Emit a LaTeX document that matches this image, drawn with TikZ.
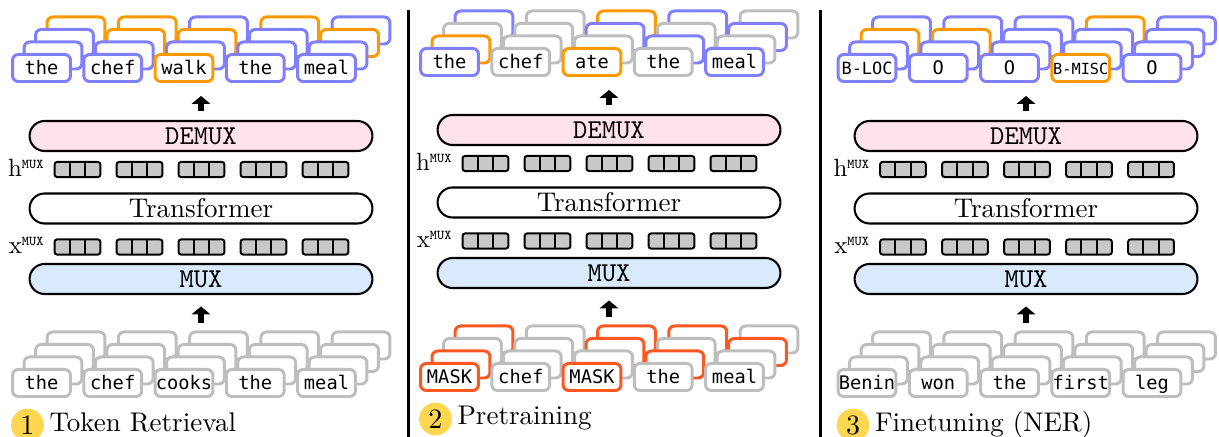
\documentclass[tikz,border=0pt]{standalone}
\usepackage{fontspec}
\usepackage{tikz}
\usetikzlibrary{arrows.meta}
\newfontfamily\tokfont{DejaVu Sans Mono}

\definecolor{tokblue}{RGB}{128,128,255}
\definecolor{tokorange}{RGB}{255,153,0}
\definecolor{tokgray}{RGB}{190,190,190}
\definecolor{tokred}{RGB}{255,87,34}
\definecolor{demuxpink}{RGB}{255,226,236}
\definecolor{muxblue}{RGB}{217,234,252}
\definecolor{cellgray}{RGB}{200,200,200}
\definecolor{stepyellow}{RGB}{255,214,80}

\begin{document}
\begin{tikzpicture}[x=0.385pt, y=-0.385pt,
  tok/.style={draw=#1, fill=white, line width=1.15pt, rounded corners=2.2pt,
    minimum width=22.3pt, minimum height=10.4pt, inner sep=0pt,
    font=\tokfont\fontsize{7.2}{8}\selectfont, text height=5.8pt, text depth=0.5pt},
  pill/.style={draw, fill=#1, line width=0.8pt, rounded corners=5.77pt,
    minimum width=132pt, minimum height=11.55pt, inner sep=0pt,
    font=\fontsize{10.4}{12}\selectfont},
  ttlabel/.style={font=\ttfamily\fontsize{10.5}{12}\selectfont},
  vecrow/.style={draw, fill=cellgray, line width=0.75pt, rounded corners=0.9pt,
    minimum width=17.6pt, minimum height=5.8pt, inner sep=0pt,
    path picture={
      \draw[line width=0.75pt] ([xshift=-2.93pt]path picture bounding box.north) -- ([xshift=-2.93pt]path picture bounding box.south);
      \draw[line width=0.75pt] ([xshift=2.93pt]path picture bounding box.north) -- ([xshift=2.93pt]path picture bounding box.south);}},
  muxlab/.style={anchor=base east, inner sep=0pt, font=\fontsize{9.6}{10}\selectfont},
  outarrow/.style={line width=2pt, -{Triangle[width=7pt,length=3pt]}, shorten <=3.3pt, shorten >=5pt},
  inarrow/.style={line width=2pt, -{Triangle[width=7pt,length=3pt]}, shorten <=2.7pt, shorten >=4.4pt},
  stepnum/.style={circle, fill=stepyellow, minimum size=12.6pt, inner sep=0pt, font=\fontsize{10.8}{12}\selectfont},
  steptitle/.style={anchor=base west, inner sep=0pt, font=\fontsize{10.4}{12}\selectfont}]
\useasboundingbox (0,0) rectangle (1219,437);

\newcommand{\muxsup}{\raisebox{2.9pt}{\fontsize{5.2}{6}\selectfont\ttfamily MUX}}

% token retrieval
\node[pill=demuxpink, ttlabel] (p1demux) at (201,136) {DEMUX};
\node[pill=white] (p1tf) at (201,208.5) {Transformer};
\node[pill=muxblue, ttlabel] (p1mux) at (201,279) {MUX};
\node[muxlab] (p1hlab) at (44,176.5) {h\muxsup};
\node[muxlab] (p1xlab) at (44,253.5) {x\muxsup};
\node[vecrow] (p1h1) at (77.5,169.5) {};
\node[vecrow] (p1h2) at (139.5,169.5) {};
\node[vecrow] (p1h3) at (201.5,169.5) {};
\node[vecrow] (p1h4) at (263.5,169.5) {};
\node[vecrow] (p1h5) at (325.5,169.5) {};
\node[vecrow] (p1x1) at (77.5,247) {};
\node[vecrow] (p1x2) at (139.5,247) {};
\node[vecrow] (p1x3) at (201.5,247) {};
\node[vecrow] (p1x4) at (263.5,247) {};
\node[vecrow] (p1x5) at (325.5,247) {};

\node[tok=tokorange] (p1t1k3) at (76,30.5) {};
\node[tok=tokorange] (p1t2k3) at (147.25,30.5) {};
\node[tok=tokblue] (p1t3k3) at (218.5,30.5) {};
\node[tok=tokorange] (p1t4k3) at (289.75,30.5) {};
\node[tok=tokblue] (p1t5k3) at (361,30.5) {};
\node[tok=tokblue] (p1t1k2) at (64.5,43) {};
\node[tok=tokorange] (p1t2k2) at (135.75,43) {};
\node[tok=tokorange] (p1t3k2) at (207,43) {};
\node[tok=tokblue] (p1t4k2) at (278.25,43) {};
\node[tok=tokorange] (p1t5k2) at (349.5,43) {};
\node[tok=tokblue] (p1t1k1) at (53,55.5) {};
\node[tok=tokblue] (p1t2k1) at (124.25,55.5) {};
\node[tok=tokblue] (p1t3k1) at (195.5,55.5) {};
\node[tok=tokblue] (p1t4k1) at (266.75,55.5) {};
\node[tok=tokblue] (p1t5k1) at (338,55.5) {};
\node[tok=tokblue] (p1t1k0) at (41.5,68) {the};
\node[tok=tokblue] (p1t2k0) at (112.75,68) {chef};
\node[tok=tokorange] (p1t3k0) at (184,68) {walk};
\node[tok=tokblue] (p1t4k0) at (255.25,68) {the};
\node[tok=tokblue] (p1t5k0) at (326.5,68) {meal};

\node[tok=tokgray] (p1b1k3) at (76,345.5) {};
\node[tok=tokgray] (p1b2k3) at (147.25,345.5) {};
\node[tok=tokgray] (p1b3k3) at (218.5,345.5) {};
\node[tok=tokgray] (p1b4k3) at (289.75,345.5) {};
\node[tok=tokgray] (p1b5k3) at (361,345.5) {};
\node[tok=tokgray] (p1b1k2) at (64.5,358) {};
\node[tok=tokgray] (p1b2k2) at (135.75,358) {};
\node[tok=tokgray] (p1b3k2) at (207,358) {};
\node[tok=tokgray] (p1b4k2) at (278.25,358) {};
\node[tok=tokgray] (p1b5k2) at (349.5,358) {};
\node[tok=tokgray] (p1b1k1) at (53,370.5) {};
\node[tok=tokgray] (p1b2k1) at (124.25,370.5) {};
\node[tok=tokgray] (p1b3k1) at (195.5,370.5) {};
\node[tok=tokgray] (p1b4k1) at (266.75,370.5) {};
\node[tok=tokgray] (p1b5k1) at (338,370.5) {};
\node[tok=tokgray] (p1b1k0) at (41.5,383) {the};
\node[tok=tokgray] (p1b2k0) at (112.75,383) {chef};
\node[tok=tokgray] (p1b3k0) at (184,383) {cooks};
\node[tok=tokgray] (p1b4k0) at (255.25,383) {the};
\node[tok=tokgray] (p1b5k0) at (326.5,383) {meal};

\draw[outarrow] (p1demux.north) -- (p1demux.north |- p1t3k0.south);
\draw[inarrow] (p1mux.south |- p1b3k3.north) -- (p1mux.south);

\node[stepnum] (p1num) at (27.5,425) {1};
\node[steptitle] (p1title) at (49,431) {Token Retrieval};

% pretraining
\node[pill=demuxpink, ttlabel] (p2demux) at (609,130) {DEMUX};
\node[pill=white] (p2tf) at (609,202.5) {Transformer};
\node[pill=muxblue, ttlabel] (p2mux) at (609,273) {MUX};
\node[muxlab] (p2hlab) at (452,170.5) {h\muxsup};
\node[muxlab] (p2xlab) at (452,247.5) {x\muxsup};
\node[vecrow] (p2h1) at (485.5,163.5) {};
\node[vecrow] (p2h2) at (547.5,163.5) {};
\node[vecrow] (p2h3) at (609.5,163.5) {};
\node[vecrow] (p2h4) at (671.5,163.5) {};
\node[vecrow] (p2h5) at (733.5,163.5) {};
\node[vecrow] (p2x1) at (485.5,241) {};
\node[vecrow] (p2x2) at (547.5,241) {};
\node[vecrow] (p2x3) at (609.5,241) {};
\node[vecrow] (p2x4) at (671.5,241) {};
\node[vecrow] (p2x5) at (733.5,241) {};

\node[tok=tokblue] (p2t1k3) at (484,24.5) {};
\node[tok=tokgray] (p2t2k3) at (555.25,24.5) {};
\node[tok=tokorange] (p2t3k3) at (626.5,24.5) {};
\node[tok=tokblue] (p2t4k3) at (697.75,24.5) {};
\node[tok=tokgray] (p2t5k3) at (769,24.5) {};
\node[tok=tokgray] (p2t1k2) at (472.5,37) {};
\node[tok=tokgray] (p2t2k2) at (543.75,37) {};
\node[tok=tokblue] (p2t3k2) at (615,37) {};
\node[tok=tokgray] (p2t4k2) at (686.25,37) {};
\node[tok=tokblue] (p2t5k2) at (757.5,37) {};
\node[tok=tokorange] (p2t1k1) at (461,49.5) {};
\node[tok=tokgray] (p2t2k1) at (532.25,49.5) {};
\node[tok=tokgray] (p2t3k1) at (603.5,49.5) {};
\node[tok=tokblue] (p2t4k1) at (674.75,49.5) {};
\node[tok=tokgray] (p2t5k1) at (746,49.5) {};
\node[tok=tokblue] (p2t1k0) at (449.5,62) {the};
\node[tok=tokgray] (p2t2k0) at (520.75,62) {chef};
\node[tok=tokorange] (p2t3k0) at (592,62) {ate};
\node[tok=tokgray] (p2t4k0) at (663.25,62) {the};
\node[tok=tokblue] (p2t5k0) at (734.5,62) {meal};

\node[tok=tokred] (p2b1k3) at (484,339.5) {};
\node[tok=tokgray] (p2b2k3) at (555.25,339.5) {};
\node[tok=tokred] (p2b3k3) at (626.5,339.5) {};
\node[tok=tokred] (p2b4k3) at (697.75,339.5) {};
\node[tok=tokgray] (p2b5k3) at (769,339.5) {};
\node[tok=tokgray] (p2b1k2) at (472.5,352) {};
\node[tok=tokgray] (p2b2k2) at (543.75,352) {};
\node[tok=tokred] (p2b3k2) at (615,352) {};
\node[tok=tokgray] (p2b4k2) at (686.25,352) {};
\node[tok=tokred] (p2b5k2) at (757.5,352) {};
\node[tok=tokred] (p2b1k1) at (461,364.5) {};
\node[tok=tokgray] (p2b2k1) at (532.25,364.5) {};
\node[tok=tokgray] (p2b3k1) at (603.5,364.5) {};
\node[tok=tokred] (p2b4k1) at (674.75,364.5) {};
\node[tok=tokgray] (p2b5k1) at (746,364.5) {};
\node[tok=tokred] (p2b1k0) at (449.5,377) {MASK};
\node[tok=tokgray] (p2b2k0) at (520.75,377) {chef};
\node[tok=tokred] (p2b3k0) at (592,377) {MASK};
\node[tok=tokgray] (p2b4k0) at (663.25,377) {the};
\node[tok=tokgray] (p2b5k0) at (734.5,377) {meal};

\draw[outarrow] (p2demux.north) -- (p2demux.north |- p2t3k0.south);
\draw[inarrow] (p2mux.south |- p2b3k3.north) -- (p2mux.south);

\node[stepnum] (p2num) at (435.5,419) {2};
\node[steptitle] (p2title) at (457,425) {Pretraining};

% finetuning
\node[pill=demuxpink, ttlabel] (p3demux) at (1026,136) {DEMUX};
\node[pill=white] (p3tf) at (1026,208.5) {Transformer};
\node[pill=muxblue, ttlabel] (p3mux) at (1026,279) {MUX};
\node[muxlab] (p3hlab) at (869.5,176.5) {h\muxsup};
\node[muxlab] (p3xlab) at (869.5,253.5) {x\muxsup};
\node[vecrow] (p3h1) at (903,169.5) {};
\node[vecrow] (p3h2) at (965,169.5) {};
\node[vecrow] (p3h3) at (1027,169.5) {};
\node[vecrow] (p3h4) at (1089,169.5) {};
\node[vecrow] (p3h5) at (1151,169.5) {};
\node[vecrow] (p3x1) at (903,247) {};
\node[vecrow] (p3x2) at (965,247) {};
\node[vecrow] (p3x3) at (1027,247) {};
\node[vecrow] (p3x4) at (1089,247) {};
\node[vecrow] (p3x5) at (1151,247) {};

\node[tok=tokblue] (p3t1k3) at (901.5,30.5) {};
\node[tok=tokblue] (p3t2k3) at (972.75,30.5) {};
\node[tok=tokblue] (p3t3k3) at (1044,30.5) {};
\node[tok=tokorange] (p3t4k3) at (1115.25,30.5) {};
\node[tok=tokblue] (p3t5k3) at (1186.5,30.5) {};
\node[tok=tokorange] (p3t1k2) at (890,43) {};
\node[tok=tokorange] (p3t2k2) at (961.25,43) {};
\node[tok=tokblue] (p3t3k2) at (1032.5,43) {};
\node[tok=tokblue] (p3t4k2) at (1103.75,43) {};
\node[tok=tokblue] (p3t5k2) at (1175,43) {};
\node[tok=tokblue] (p3t1k1) at (878.5,55.5) {};
\node[tok=tokblue] (p3t2k1) at (949.75,55.5) {};
\node[tok=tokblue] (p3t3k1) at (1021,55.5) {};
\node[tok=tokblue] (p3t4k1) at (1092.25,55.5) {};
\node[tok=tokblue] (p3t5k1) at (1163.5,55.5) {};
\node[tok=tokblue, font=\tokfont\fontsize{6.5}{7}\selectfont] (p3t1k0) at (867,68) {B-LOC};
\node[tok=tokblue] (p3t2k0) at (938.25,68) {O};
\node[tok=tokblue] (p3t3k0) at (1009.5,68) {O};
\node[tok=tokorange, font=\tokfont\fontsize{5.9}{7}\selectfont] (p3t4k0) at (1080.75,68) {B-MISC};
\node[tok=tokblue] (p3t5k0) at (1152,68) {O};

\node[tok=tokgray] (p3b1k3) at (901.5,345.5) {};
\node[tok=tokgray] (p3b2k3) at (972.75,345.5) {};
\node[tok=tokgray] (p3b3k3) at (1044,345.5) {};
\node[tok=tokgray] (p3b4k3) at (1115.25,345.5) {};
\node[tok=tokgray] (p3b5k3) at (1186.5,345.5) {};
\node[tok=tokgray] (p3b1k2) at (890,358) {};
\node[tok=tokgray] (p3b2k2) at (961.25,358) {};
\node[tok=tokgray] (p3b3k2) at (1032.5,358) {};
\node[tok=tokgray] (p3b4k2) at (1103.75,358) {};
\node[tok=tokgray] (p3b5k2) at (1175,358) {};
\node[tok=tokgray] (p3b1k1) at (878.5,370.5) {};
\node[tok=tokgray] (p3b2k1) at (949.75,370.5) {};
\node[tok=tokgray] (p3b3k1) at (1021,370.5) {};
\node[tok=tokgray] (p3b4k1) at (1092.25,370.5) {};
\node[tok=tokgray] (p3b5k1) at (1163.5,370.5) {};
\node[tok=tokgray] (p3b1k0) at (867,383) {Benin};
\node[tok=tokgray] (p3b2k0) at (938.25,383) {won};
\node[tok=tokgray] (p3b3k0) at (1009.5,383) {the};
\node[tok=tokgray] (p3b4k0) at (1080.75,383) {first};
\node[tok=tokgray] (p3b5k0) at (1152,383) {leg};

\draw[outarrow] (p3demux.north) -- (p3demux.north |- p3t3k0.south);
\draw[inarrow] (p3mux.south |- p3b3k3.north) -- (p3mux.south);

\node[stepnum] (p3num) at (853,425) {3};
\node[steptitle] (p3title) at (874.5,431) {Finetuning (NER)};

\draw[line width=1.4pt] (408.5,10) -- (408.5,437);
\draw[line width=1.4pt] (820.3,10) -- (820.3,437);
\end{tikzpicture}
\end{document}
